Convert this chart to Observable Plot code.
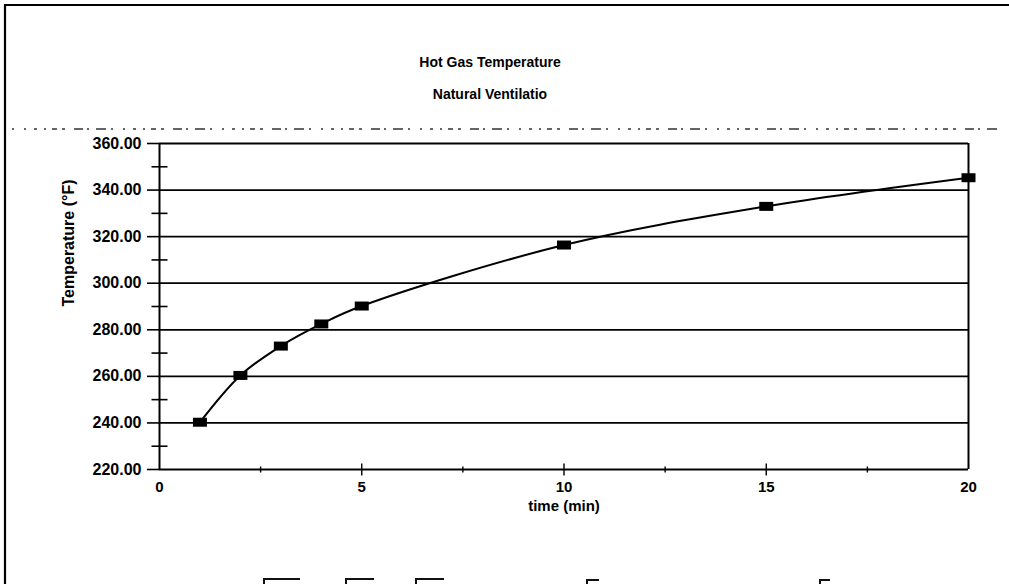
<!DOCTYPE html>
<html><head><meta charset="utf-8">
<script src="https://cdn.jsdelivr.net/npm/d3@7"></script>
<script src="https://cdn.jsdelivr.net/npm/@observablehq/plot@0.6"></script>
<style>
body{margin:0;background:#fff;overflow:hidden;}
#wrap{position:relative;width:1009px;height:584px;overflow:hidden;font-family:"Liberation Sans",Arial,sans-serif;}
.t{position:absolute;left:0;width:980px;text-align:center;font-weight:bold;font-size:14px;color:#000;line-height:16px;}
#plot{position:absolute;left:0;top:0;}
#deco{position:absolute;left:0;top:0;}
</style></head>
<body>
<div id="wrap">
  <svg id="deco" width="1009" height="584">
    <line x1="5" x2="1009" y1="5" y2="5" stroke="#000" stroke-width="2"/>
    <line x1="5" x2="5" y1="4" y2="584" stroke="#000" stroke-width="2.2"/>
    <line x1="12" x2="1000" y1="129" y2="129" stroke="#333" stroke-width="1.4" stroke-dasharray="2 10 2 8 3 7 2 6 5 5 3 9 9 4 2 7 10 5"/>
    <g fill="none" stroke="#111" stroke-width="2">
      <path d="M264 584 V579 H300"/>
      <path d="M346 584 V579 H374"/>
      <path d="M416 584 V579 H444"/>
      <path d="M587 584 V580 H599"/>
      <path d="M820 584 V580 H830"/>
    </g>
  </svg>
  <div class="t" id="title" style="top:54px">Hot Gas Temperature</div>
  <div class="t" id="subtitle" style="top:86px">Natural Ventilatio</div>
  <div id="plot"></div>
</div>
<script>
const times = [1, 2, 3, 4, 5, 10, 15, 20];
const temps = [240.3, 260.4, 273.0, 282.5, 290.2, 316.4, 333.0, 345.3];
const yMajor = [220, 240, 260, 280, 300, 320, 340, 360];
const yMinor = [230, 250, 270, 290, 310, 330, 350];
const xMajor = [0, 5, 10, 15, 20];
const xMinor = [2.5, 7.5, 12.5, 17.5];
const xLabel = "time (min)";
const yLabel = "Temperature (°F)";

const data = times.map((t, i) => ({time: t, temp: temps[i]}));

const hTick = {draw(ctx, size) { ctx.moveTo(-8, 0); ctx.lineTo(8, 0); }};
const vTickBig = {draw(ctx, size) { ctx.moveTo(0, -6); ctx.lineTo(0, 6); }};
const vTickSmall = {draw(ctx, size) { ctx.moveTo(0, -3); ctx.lineTo(0, 3); }};
const marker = {draw(ctx, size) { ctx.rect(-7, -4.5, 14, 9); }};

const chart = Plot.plot({
  width: 1009,
  height: 584,
  marginTop: 143,
  marginBottom: 115,
  marginLeft: 159,
  marginRight: 41,
  style: {fontFamily: '"Liberation Sans", Arial, sans-serif', fontWeight: "bold", fontSize: "15px", color: "#000", background: "transparent"},
  x: {domain: [0, 20]},
  y: {domain: [220, 360]},
  marks: [
    Plot.ruleY(yMajor, {y: d => d, x1: 0, x2: 20, stroke: "#000", strokeWidth: 1.8}),
    Plot.ruleX([0, 20], {x: d => d, y1: 220, y2: 360, stroke: "#000", strokeWidth: 2}),
    Plot.dot(yMinor, {x: 0, y: d => d, symbol: hTick, stroke: "#000", strokeWidth: 1.6}),
    Plot.dot(xMajor.slice(1, -1), {x: d => d, y: 220, symbol: vTickBig, stroke: "#000", strokeWidth: 1.4}),
    Plot.dot(xMinor, {x: d => d, y: 220, symbol: vTickSmall, stroke: "#000", strokeWidth: 1.4}),
    Plot.axisY({ticks: yMajor, tickFormat: d => d.toFixed(2), tickSize: 12, tickPadding: 6, strokeWidth: 1.6, label: null, fontSize: 16, fontWeight: "bold"}),
    Plot.axisX({ticks: xMajor, tickFormat: d => String(d), tickSize: 0, tickPadding: 12, label: null, fontSize: 15, fontWeight: "bold"}),
    Plot.text([yLabel], {frameAnchor: "left", dx: -91, rotate: -90, fontSize: 16, fontWeight: "bold", fill: "#000"}),
    Plot.text([xLabel], {frameAnchor: "bottom", dy: 41, fontSize: 15, fontWeight: "bold", fill: "#000"}),
    Plot.line(data, {x: "time", y: "temp", curve: "catmull-rom", stroke: "#000", strokeWidth: 2}),
    Plot.dot(data, {x: "time", y: "temp", symbol: marker, fill: "#000", stroke: "none"})
  ]
});
document.getElementById("plot").appendChild(chart);
</script>
</body></html>
